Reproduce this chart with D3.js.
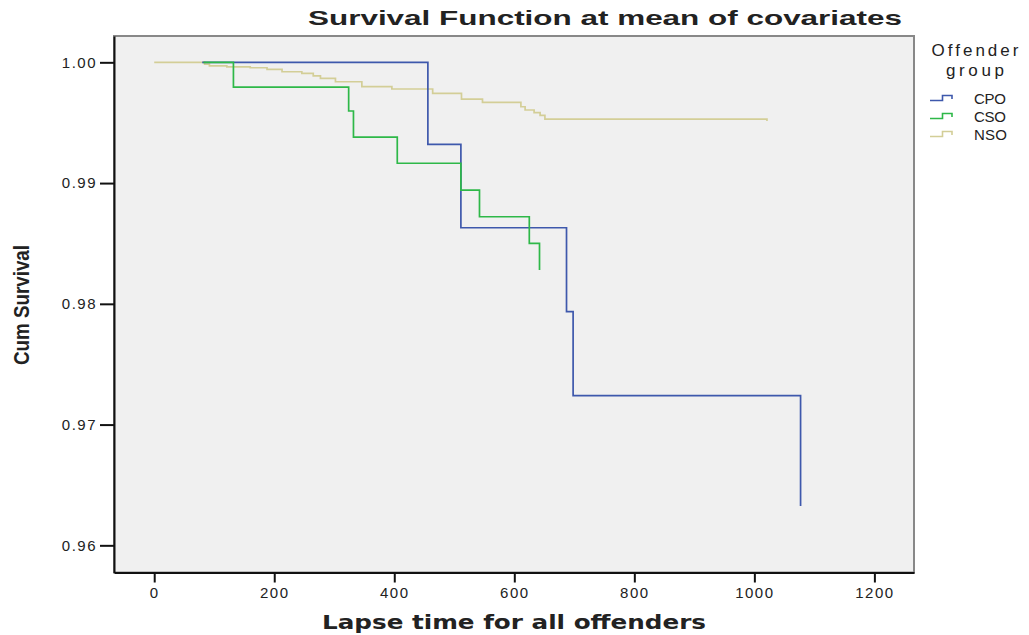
<!DOCTYPE html>
<html>
<head>
<meta charset="utf-8">
<script src="https://cdn.jsdelivr.net/npm/d3@7"></script>
<style>
  body { margin: 0; background: #fff; }
  text { font-family: "Liberation Sans", Arial, sans-serif; fill: #222; }
</style>
</head>
<body>
<div id="chart"></div>
<script>
// Survival values (time in days, cumulative survival)
var groups = ['CPO', 'CSO', 'NSO']
var cpoTime = [80, 456, 511, 687, 698, 1077]
var cpoSurv = [1.0, 0.99321, 0.9863, 0.97935, 0.97239, 0.96325]
var csoTime = [82, 132, 324, 332, 405, 511, 542, 625, 642]
var csoSurv = [1.0, 0.99795, 0.99597, 0.99381, 0.99164, 0.98942, 0.98721, 0.98501, 0.9828]
var nsoTime = [0, 84, 92, 121, 160, 188, 213, 246, 265, 277, 302, 346, 396, 464, 512, 547, 611, 618, 633, 643, 651, 1021]
var nsoSurv = [1.0, 0.99985, 0.9997, 0.99962, 0.99955, 0.99942, 0.99922, 0.99909, 0.99887, 0.99867, 0.99839, 0.99798, 0.99779, 0.99743, 0.99696, 0.99669, 0.99632, 0.99605, 0.99583, 0.9956, 0.9953, 0.99514]
var xTicks = [0, 200, 400, 600, 800, 1000, 1200]
var yTicks = [0.96, 0.97, 0.98, 0.99, 1.0]

var width = 1029
var height = 635
// plot frame (window.top is taken, so use a box object)
var frame = { left: 114, right: 914, top: 36, bottom: 572.5 }

var colors = d3.scaleOrdinal()
  .domain(groups)
  .range(['#3e58ac', '#2eb848', '#d3ce97'])

var svg = d3.select('#chart')
  .append('svg')
  .attr('width', width)
  .attr('height', height)

var x = d3.scaleLinear().domain([-67, 1266]).range([frame.left, frame.right])
var y = d3.scaleLinear().domain([0.95775, 1.00218]).range([frame.bottom, frame.top])

svg.append('rect')
  .attr('x', frame.left)
  .attr('y', frame.top)
  .attr('width', frame.right - frame.left)
  .attr('height', frame.bottom - frame.top)
  .attr('fill', '#f0f0f0')
  .attr('stroke', '#888')
  .attr('stroke-width', 2)

// axes
var yAxis = svg.append('g')
  .attr('transform', `translate(${frame.left},0)`)
  .call(d3.axisLeft(y).tickValues(yTicks).tickSize(14).tickSizeOuter(0).tickPadding(3).tickFormat(d3.format('.2f')))
var xAxis = svg.append('g')
  .attr('transform', `translate(0,${frame.bottom})`)
  .call(d3.axisBottom(x).tickValues(xTicks).tickSize(10).tickSizeOuter(0).tickPadding(5).tickFormat(d3.format('d')))

yAxis.select('.domain').attr('stroke', '#111').attr('stroke-width', 2)
xAxis.select('.domain').attr('stroke', '#111').attr('stroke-width', 2)
svg.selectAll('.tick line').attr('stroke', '#111').attr('stroke-width', 2)
svg.selectAll('.tick text')
  .style('font-family', '"Liberation Sans", Arial, sans-serif')
  .style('font-size', '15px')
  .style('letter-spacing', '1.5px')
  .attr('fill', '#333')

// step lines
var line = d3.line()
  .x(d => x(d[0]))
  .y(d => y(d[1]))
  .curve(d3.curveStepAfter)

var series = [
  { name: 'NSO', points: d3.zip(nsoTime, nsoSurv) },
  { name: 'CPO', points: d3.zip(cpoTime, cpoSurv) },
  { name: 'CSO', points: d3.zip(csoTime, csoSurv) }
]

svg.append('g')
  .selectAll('path')
  .data(series)
  .enter()
  .append('path')
  .attr('d', d => line(d.points))
  .attr('fill', 'none')
  .attr('stroke', d => colors(d.name))
  .attr('stroke-width', 1.7)

// titles
svg.append('text')
  .attr('x', 605)
  .attr('y', 25)
  .attr('text-anchor', 'middle')
  .attr('font-weight', 'bold')
  .attr('font-size', 21)
  .attr('textLength', 594)
  .attr('lengthAdjust', 'spacingAndGlyphs')
  .text('Survival Function at mean of covariates')

svg.append('text')
  .attr('x', 514)
  .attr('y', 629)
  .attr('text-anchor', 'middle')
  .attr('font-weight', 'bold')
  .attr('font-size', 20)
  .attr('textLength', 384)
  .attr('lengthAdjust', 'spacingAndGlyphs')
  .style('font-family', '"DejaVu Sans", Verdana, sans-serif')
  .text('Lapse time for all offenders')

svg.append('text')
  .attr('transform', 'translate(29,305) rotate(-90)')
  .attr('text-anchor', 'middle')
  .attr('font-weight', 'bold')
  .attr('font-size', 22)
  .attr('textLength', 120)
  .attr('lengthAdjust', 'spacingAndGlyphs')
  .style('font-family', '"Liberation Sans Narrow", "Arial Narrow", sans-serif')
  .text('Cum Survival')

// legend
var legend = svg.append('g')
legend.append('text')
  .attr('x', 975)
  .attr('y', 56)
  .attr('text-anchor', 'middle')
  .attr('font-size', 17)
  .attr('textLength', 87)
  .attr('lengthAdjust', 'spacing')
  .text('Offender')
legend.append('text')
  .attr('x', 975)
  .attr('y', 76)
  .attr('text-anchor', 'middle')
  .attr('font-size', 17)
  .attr('textLength', 58)
  .attr('lengthAdjust', 'spacing')
  .text('group')

var items = legend.selectAll('.item')
  .data(groups)
  .enter()
  .append('g')
  .attr('class', 'item')
  .attr('transform', (d, i) => `translate(0,${98 + i * 18})`)

items.append('path')
  .attr('d', 'M930,2.5H942.5V-2.5H952V1')
  .attr('fill', 'none')
  .attr('stroke', d => colors(d))
  .attr('stroke-width', 1.6)

items.append('text')
  .attr('x', 974)
  .attr('y', 5.5)
  .attr('font-size', 15)
  .attr('textLength', d => d === 'NSO' ? 33 : 32)
  .attr('lengthAdjust', 'spacing')
  .text(d => d)
</script>
</body>
</html>
